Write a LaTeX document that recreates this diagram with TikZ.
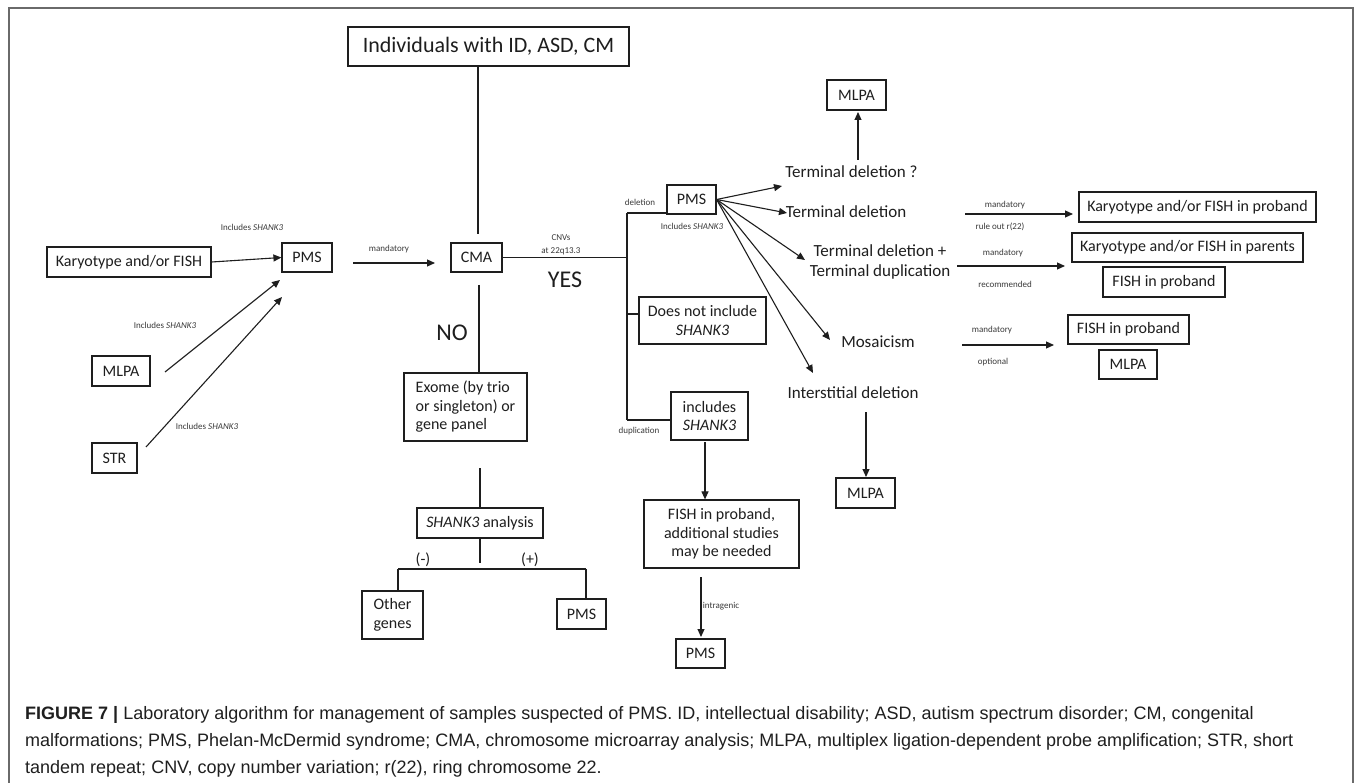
\documentclass[tikz,border=0pt]{standalone}
\usepackage{fontspec}
\setmainfont{Carlito}
\newfontfamily\capfont{Liberation Sans}
\usetikzlibrary{arrows.meta}
\definecolor{framec}{HTML}{6A6A6A}
\definecolor{inkc}{HTML}{1E1E1E}
\definecolor{lblc}{HTML}{3A3A3A}
\begin{document}
\begin{tikzpicture}[x=1pt,y=-1pt,
  box/.style={draw=inkc, line width=1.2pt, inner sep=0pt, text=inkc, align=center,
              font=\fontsize{16}{18.5}\selectfont},
  plain/.style={inner sep=0pt, text=inkc, align=center, font=\fontsize{17}{20}\selectfont},
  huge/.style={inner sep=0pt, text=inkc, font=\fontsize{24}{26}\selectfont},
  lbl/.style={inner sep=0pt, text=lblc, align=center, font=\fontsize{9}{12}\selectfont},
  ln/.style={draw=inkc, line width=1.1pt},
  arr/.style={ln, -{Triangle[length=8pt,width=7pt]}},
  captxt/.style={inner sep=0pt, anchor=base west, text=black!88, font=\capfont\fontsize{18}{27}\selectfont}
]
\useasboundingbox (0,0) rectangle (1357,783);
\fill[white] (0,0) rectangle (1357,783);
% frame
\draw[framec, line width=1.5pt] (9,783) -- (9,8) -- (1353,8) -- (1353,783);

% ---------- boxes ----------
\node[box, minimum width=281pt, minimum height=39pt, font=\fontsize{22}{24}\selectfont] (top) at (488.5,46.5) {Individuals with ID, ASD, CM};
\node[box, minimum width=51pt, minimum height=29pt] (cma) at (476.5,257.5) {CMA};
\node[box, minimum width=50pt, minimum height=29pt] (pmsl) at (307,257.5) {PMS};
\node[box, minimum width=164pt, minimum height=30pt] (kf) at (129,262) {Karyotype and/or FISH};
\node[box, minimum width=58pt, minimum height=30pt] (mlpal) at (121,371) {MLPA};
\node[box, minimum width=45pt, minimum height=30pt] (str) at (114.5,458) {STR};
\node[box, minimum width=123pt, minimum height=68pt, align=left] (exome) at (465.5,407) {Exome (by trio\\or singleton) or\\gene panel};
\node[box, minimum width=126pt, minimum height=30pt] (sa) at (480,523) {\textit{SHANK3} analysis};
\node[box, minimum width=61pt, minimum height=48pt] (other) at (392.5,615) {Other\\genes};
\node[box, minimum width=49pt, minimum height=30pt] (pmsa) at (581.5,614) {PMS};
\node[box, minimum width=49pt, minimum height=29pt] (pmsr) at (691.5,199.5) {PMS};
\node[box, minimum width=127pt, minimum height=47pt] (does) at (702.5,320.5) {Does not include\\\textit{SHANK3}};
\node[box, minimum width=77pt, minimum height=48pt] (incl) at (709.5,416) {includes\\\textit{SHANK3}};
\node[box, minimum width=155pt, minimum height=68pt] (fishb) at (721.5,534) {FISH in proband,\\additional studies\\may be needed};
\node[box, minimum width=49pt, minimum height=29pt] (pmsb) at (700.5,653.5) {PMS};
\node[box, minimum width=59pt, minimum height=30pt] (mlpat) at (856.5,95) {MLPA};
\node[box, minimum width=59pt, minimum height=30pt] (mlpam) at (865.5,493) {MLPA};
\node[box, minimum width=237pt, minimum height=30pt] (kfpro) at (1197.5,207) {Karyotype and/or FISH in proband};
\node[box, minimum width=231pt, minimum height=29pt] (kfpar) at (1187.5,247.5) {Karyotype and/or FISH in parents};
\node[box, minimum width=122pt, minimum height=30pt] (fish1) at (1164,282) {FISH in proband};
\node[box, minimum width=121pt, minimum height=29pt] (fish2) at (1128.5,329.5) {FISH in proband};
\node[box, minimum width=58pt, minimum height=29pt] (mlpar) at (1128,364.5) {MLPA};

% ---------- plain texts ----------
\node[plain] (tdq) at (851.5,172) {Terminal deletion ?};
\node[plain] (td) at (846,212) {Terminal deletion};
\node[plain, font=\fontsize{17}{20}\selectfont] (tdd) at (880,262) {Terminal deletion +\\Terminal duplication};
\node[plain] (mos) at (878,342) {Mosaicism};
\node[plain] (int) at (853,393) {Interstitial deletion};
\node[huge] (yes) at (565,280) {YES};
\node[huge] (no) at (452,333) {NO};
\node[plain, font=\fontsize{16}{18}\selectfont] (minus) at (423,560) {(-)};
\node[plain, font=\fontsize{16}{18}\selectfont] (plus) at (530,560) {(+)};

% ---------- small labels ----------
\node[lbl] (l1) at (252,227) {Includes \textit{SHANK3}};
\node[lbl] (l2) at (165,325) {Includes \textit{SHANK3}};
\node[lbl] (l3) at (207,426) {Includes \textit{SHANK3}};
\node[lbl] (l4) at (692,226) {Includes \textit{SHANK3}};
\node[lbl] (l5) at (389,249) {mandatory};
\node[lbl, font=\fontsize{9}{12.5}\selectfont] (l6) at (561,245) {CNVs\\at 22q13.3};
\node[lbl] (l7) at (640,202) {deletion};
\node[lbl] (l8) at (639,431) {duplication};
\node[lbl] (l9) at (721,606) {intragenic};
\node[lbl] (l10) at (1005,205) {mandatory};
\node[lbl] (l11) at (1000,227) {rule out r(22)};
\node[lbl] (l12) at (1003,253) {mandatory};
\node[lbl] (l13) at (1005,284) {recommended};
\node[lbl] (l14) at (992,330) {mandatory};
\node[lbl] (l15) at (993,362) {optional};

% ---------- coordinates ----------
\coordinate (c1) at (478,234);
\coordinate (c2) at (479,285);
\coordinate (m1) at (353,263);
\coordinate (m2) at (435,263);
\coordinate (a1) at (165,372);
\coordinate (a2) at (280,280);
\coordinate (s1) at (146,447);
\coordinate (s2) at (282,297);
\coordinate (j1) at (627,257.5);
\coordinate (vtop) at (627,213);
\coordinate (vbot) at (627,420);
\coordinate (jd) at (627,314);
\coordinate (i1) at (705,442);
\coordinate (f1) at (701,577);
\coordinate (f2) at (701,637);
\coordinate (t1) at (782,186);
\coordinate (t2) at (787,213);
\coordinate (t3) at (805,260);
\coordinate (t4) at (830,340);
\coordinate (t5) at (813,373);
\coordinate (u1) at (858,160);
\coordinate (u2) at (858,112);
\coordinate (d1) at (866,412);
\coordinate (d2) at (866,477);
\coordinate (r1a) at (965,214);
\coordinate (r1b) at (1073,214);
\coordinate (r2a) at (957,266);
\coordinate (r2b) at (1065,266);
\coordinate (r3a) at (962,345);
\coordinate (r3b) at (1054,345);
\coordinate (e1) at (480,468);
\coordinate (g1) at (480,563);
\coordinate (h1) at (398,569);
\coordinate (h2) at (586,569);

% ---------- connectors ----------
\draw[ln] (c1 |- top.south) -- (c1);
\draw[ln] (c2) -- (c2 |- exome.north);
\draw[arr] (kf.east) -- (pmsl.west);
\draw[arr] (m1) -- (m2);
\draw[arr] (a1) -- (a2);
\draw[arr] (s1) -- (s2);
\draw[ln] (cma.east) -- (j1);
\draw[ln] (vtop) -- (vbot);
\draw[ln] (vtop) -- (vtop -| pmsr.west);
\draw[ln] (jd) -- (jd -| does.west);
\draw[ln] (vbot) -- (vbot -| incl.west);
\draw[arr] (i1) -- (i1 |- fishb.north);
\draw[arr] (f1) -- (f2);
\draw[arr] (pmsr.east) -- (t1);
\draw[arr] (pmsr.east) -- (t2);
\draw[arr] (pmsr.east) -- (t3);
\draw[arr] (pmsr.east) -- (t4);
\draw[arr] (pmsr.east) -- (t5);
\draw[arr] (u1) -- (u2);
\draw[arr] (d1) -- (d2);
\draw[arr] (r1a) -- (r1b);
\draw[arr] (r2a) -- (r2b);
\draw[arr] (r3a) -- (r3b);
\draw[ln] (e1) -- (e1 |- sa.north);
\draw[ln] (sa.south) -- (g1);
\draw[ln] (h1) -- (h2);
\draw[ln] (h1) -- (h1 |- other.north);
\draw[ln] (h2) -- (h2 |- pmsa.north);

% ---------- caption ----------
\node[captxt] (cap1) at (25,719) {\textbf{FIGURE 7 |} Laboratory algorithm for management of samples suspected of PMS. ID, intellectual disability; ASD, autism spectrum disorder; CM, congenital};
\node[captxt] (cap2) at (25,746) {malformations; PMS, Phelan-McDermid syndrome; CMA, chromosome microarray analysis; MLPA, multiplex ligation-dependent probe amplification; STR, short};
\node[captxt] (cap3) at (25,773) {tandem repeat; CNV, copy number variation; r(22), ring chromosome 22.};
\end{tikzpicture}
\end{document}
